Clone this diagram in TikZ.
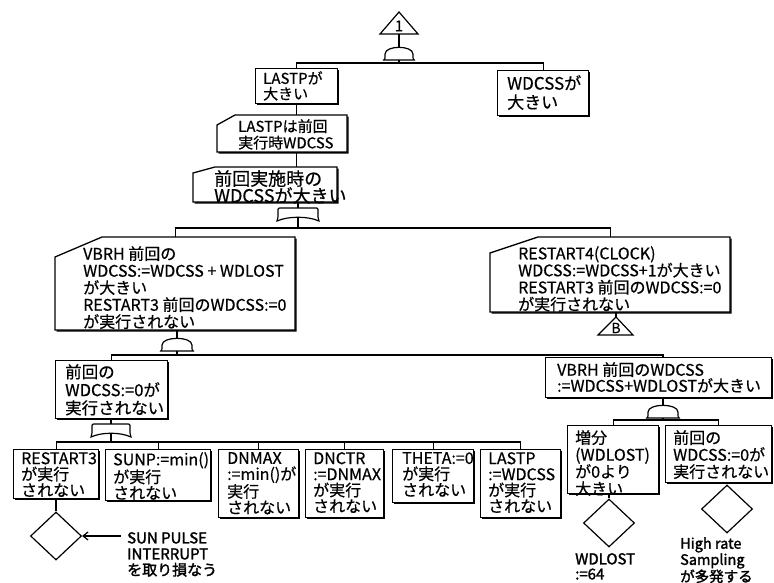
\documentclass[tikz,border=0pt]{standalone}
\usepackage{fontspec}
\setmainfont{Noto Sans CJK JP}[FakeBold=0.5]
\newfontfamily\jpbold{Noto Sans CJK JP}[FakeBold=1.8]
\usetikzlibrary{arrows.meta,shapes.geometric}
\newcommand\fsz[2]{\fontsize{#1}{#2}\selectfont}
% plain box with shadow: name l t r b
\newcommand\mkbox[5]{%
  \fill[black] (#2+1.6,#3+1.6) rectangle (#4+1.6,#5+1.6);
  \node[bx, minimum width={(#4-#2)*1pt}, minimum height={(#5-#3)*1pt}] (#1) at (#2,#3) {};}
% box with cut top-left corner: name l t r b cx cy
\newcommand\cutbox[7]{%
  \fill[black] (#2+1.6,#3+#7+1.6) -- (#2+#6+1.6,#3+1.6) -- (#4+1.6,#3+1.6) -- (#4+1.6,#5+1.6) -- (#2+1.6,#5+1.6) -- cycle;
  \draw[line width=1.3pt, fill=white] (#2,#3+#7) -- (#2+#6,#3) -- (#4,#3) -- (#4,#5) -- (#2,#5) -- cycle;
  \node[inner sep=0pt, anchor=north west, minimum width={(#4-#2)*1pt}, minimum height={(#5-#3)*1pt}] (#1) at (#2,#3) {};}
% AND gate: name cx top w h
\newcommand\andgate[5]{%
  \draw[line width=1.2pt, fill=white] (#2-#4/2-1.2,#3+#5) .. controls (#2-#4/2,#3+#5-1) .. (#2-#4/2,#3+#5*0.55)
    .. controls (#2-#4/2,#3-#5*0.15) and (#2+#4/2,#3-#5*0.15) .. (#2+#4/2,#3+#5*0.55)
    .. controls (#2+#4/2,#3+#5-1) .. (#2+#4/2+1.2,#3+#5) -- cycle;
  \coordinate (#1-t) at (#2,#3); \coordinate (#1-b) at (#2,#3+#5);}
% OR gate: name cx top w h
\newcommand\orgate[5]{%
  \draw[line width=1.2pt, fill=white] (#2-#4/2-1,#3+#5+1) .. controls (#2-#4/2,#3+#5-1) .. (#2-#4/2,#3+#5-3) -- (#2-#4/2,#3+3.5) .. controls (#2-#4/2,#3) .. (#2-#4/2+3.5,#3)
    -- (#2+#4/2-3.5,#3) .. controls (#2+#4/2,#3) .. (#2+#4/2,#3+3.5) -- (#2+#4/2,#3+#5-3) .. controls (#2+#4/2,#3+#5-1) .. (#2+#4/2+1,#3+#5+1)
    .. controls (#2+#4/4,#3+#5-4) and (#2-#4/4,#3+#5-4) .. (#2-#4/2-1,#3+#5+1) -- cycle;
  \coordinate (#1-t) at (#2,#3); \coordinate (#1-b) at (#2,#3+#5-2);}
\begin{document}
\begin{tikzpicture}[x=1pt,y=-1pt,
  ln/.style={line width=1.2pt},
  bx/.style={draw, line width=1.3pt, fill=white, inner sep=0pt, anchor=north west},
  tx/.style={anchor=north west, inner sep=0pt, align=left},
  btx/.style={anchor=north west, inner sep=0pt, align=left, font=\jpbold\fsz{15}{15}},
  dia/.style={diamond, draw, line width=1.2pt, fill=white, inner sep=0pt, minimum width=51pt, minimum height=48pt}]
\useasboundingbox (0,0) rectangle (774,583);
\fill[white] (0,0) rectangle (774,583);

% transfer triangle 1
\draw[line width=1.2pt, fill=white] (399,12) -- (418,34) -- (380,34) -- cycle;
\node[inner sep=0pt, font=\fsz{15}{15}] (tri1) at (399,26) {1};
\coordinate (tri1b) at (399,34);
\andgate{g1}{399}{47}{28}{13}

% level 1
\mkbox{b1}{255}{68}{337}{103}
\node[tx, font=\fsz{15}{15.5}] (t1) at (263,71) {LASTPが\\大きい};
\mkbox{b2}{497}{70}{588}{115}
\node[tx, font=\fsz{17}{19}] (t2) at (507,75) {WDCSSが\\大きい};

\cutbox{b3}{217}{115}{347}{152}{18}{10}
\node[tx, font=\fsz{15}{16.5}] (t3) at (238,119) {LASTPは前回\\実行時WDCSS};
\cutbox{b4}{193}{167}{337}{202}{22}{6}
\node[tx, font=\fsz{18}{17}] (t4) at (214,170) {前回実施時の\\WDCSSが大きい};
\orgate{g2}{298}{208}{40}{12}

% level 2
\cutbox{b5}{55}{237}{295}{330}{47}{20}
\node[tx, font=\fsz{16}{17}] (t5) at (83,246) {VBRH 前回の\\WDCSS:=WDCSS + WDLOST\\が大きい\\RESTART3 前回のWDCSS:=0\\が実行されない};
\cutbox{b6}{490}{237}{730}{312}{48}{16}
\node[tx, font=\fsz{16}{17}] (t6) at (518,246) {RESTART4(CLOCK)\\WDCSS:=WDCSS+1が大きい\\RESTART3 前回のWDCSS:=0\\が実行されない};
\andgate{g3}{177}{338}{30}{13}
\draw[line width=1.2pt, fill=white] (616,317) -- (633,335) -- (598,335) -- cycle;
\node[inner sep=0pt, font=\fsz{14}{14}] (triB) at (616,328) {B};
\coordinate (triBt) at (616,317);

% level 3
\mkbox{b7}{55}{360}{167}{418}
\node[tx, font=\fsz{16.5}{18}] (t7) at (65,364) {前回の\\WDCSS:=0が\\実行されない};
\mkbox{b8}{545}{357}{771}{397}
\node[tx, font=\fsz{16}{16}] (t8) at (557,362) {VBRH 前回のWDCSS\\:=WDCSS+WDLOSTが大きい};
\orgate{g4}{111}{424}{38}{12}
\andgate{g5}{663}{405}{30}{13}

% level 4
\mkbox{b9}{13}{449}{98}{498}
\mkbox{b10}{105}{449}{210}{500}
\mkbox{b11}{218}{449}{298}{517}
\mkbox{b12}{305}{449}{383}{517}
\mkbox{b13}{392}{449}{473}{502}
\mkbox{b14}{480}{449}{560}{517}
\node[tx, font=\fsz{16}{16}] (t9) at (21,452) {RESTART3\\が実行\\されない};
\node[tx, font=\fsz{16}{16}] (t10) at (113,452) {SUNP:=min()\\が実行\\されない};
\node[tx, font=\fsz{16}{16}] (t11) at (227,452) {DNMAX\\:=min()が\\実行\\されない};
\node[tx, font=\fsz{16}{16}] (t12) at (313,452) {DNCTR\\:=DNMAX\\が実行\\されない};
\node[tx, font=\fsz{16}{16}] (t13) at (402,452) {THETA:=0\\が実行\\されない};
\node[tx, font=\fsz{16}{16}] (t14) at (488,452) {LASTP\\:=WDCSS\\が実行\\されない};
\mkbox{b15}{567}{425}{658}{493}
\node[tx, font=\fsz{16}{17}] (t15) at (575,430) {増分\\(WDLOST)\\が0より\\大きい};
\mkbox{b16}{665}{425}{771}{482}
\node[tx, font=\fsz{16}{17}] (t16) at (673,430) {前回の\\WDCSS:=0が\\実行されない};

% diamonds
\node[dia] (d1) at (56,536) {};
\node[dia] (d2) at (609,523) {};
\node[dia] (d3) at (727,509) {};
\node[btx, font=\jpbold\fsz{15}{16}] (sp) at (127,532) {SUN PULSE\\INTERRUPT\\を取り損なう};
\node[btx] (wl) at (575,553) {WDLOST\\:=64};
\node[btx, font=\jpbold\fsz{14.5}{14}] (hr) at (680,537) {High rate\\Sampling\\が多発する};

% connectors
\draw[ln] (tri1b) -- (g1-t);
\draw[ln] (g1-b) -- ++(0,3) coordinate (j1);
\draw[ln] (b1.north) |- (j1) -| (b2.north);
\draw[ln] (b1.south) -- (b1.south |- b3.north);
\draw[ln] (b1.south |- b3.south) -- (b1.south |- b4.north);
\draw[ln] (g2-t |- b4.south) -- (g2-t);
\draw[ln] (g2-b) -- ++(0,10) coordinate (j2);
\draw[ln] (b5.north) |- (j2) -| (b6.north);
\draw[ln] (g3-t |- b5.south) -- (g3-t);
\draw[ln] (g3-b) -- ++(0,4) coordinate (j3);
\draw[ln] (b7.north) |- (j3) -| (g5-t |- b8.north);
\draw[ln] (triBt |- b6.south) -- (triBt);
\draw[ln] (g4-t |- b7.south) -- (g4-t);
\draw[ln] (g4-b) -- ++(0,8) coordinate (j4);
\draw[ln] (b9.north) |- (j4) -| (b14.north);
\foreach \n in {b10,b11,b12,b13} \draw[ln] (\n.north) -- (\n.north |- j4);
\draw[ln] (g5-t |- b8.south) -- (g5-t);
\draw[ln] (g5-b) -- ++(0,2) coordinate (j5);
\draw[ln] (b15.north) |- (j5) -| (b16.north);
\draw[ln] (d1.north |- b9.south) -- (d1.north);
\draw[ln] (d2.north |- b15.south) -- (d2.north);
\draw[ln] (d3.north |- b16.south) -- (d3.north);
\draw[ln, -{Straight Barb[length=5pt,width=8pt]}] (d1.east -| sp.west) ++(-6,0) -- (d1.east);
\end{tikzpicture}
\end{document}
